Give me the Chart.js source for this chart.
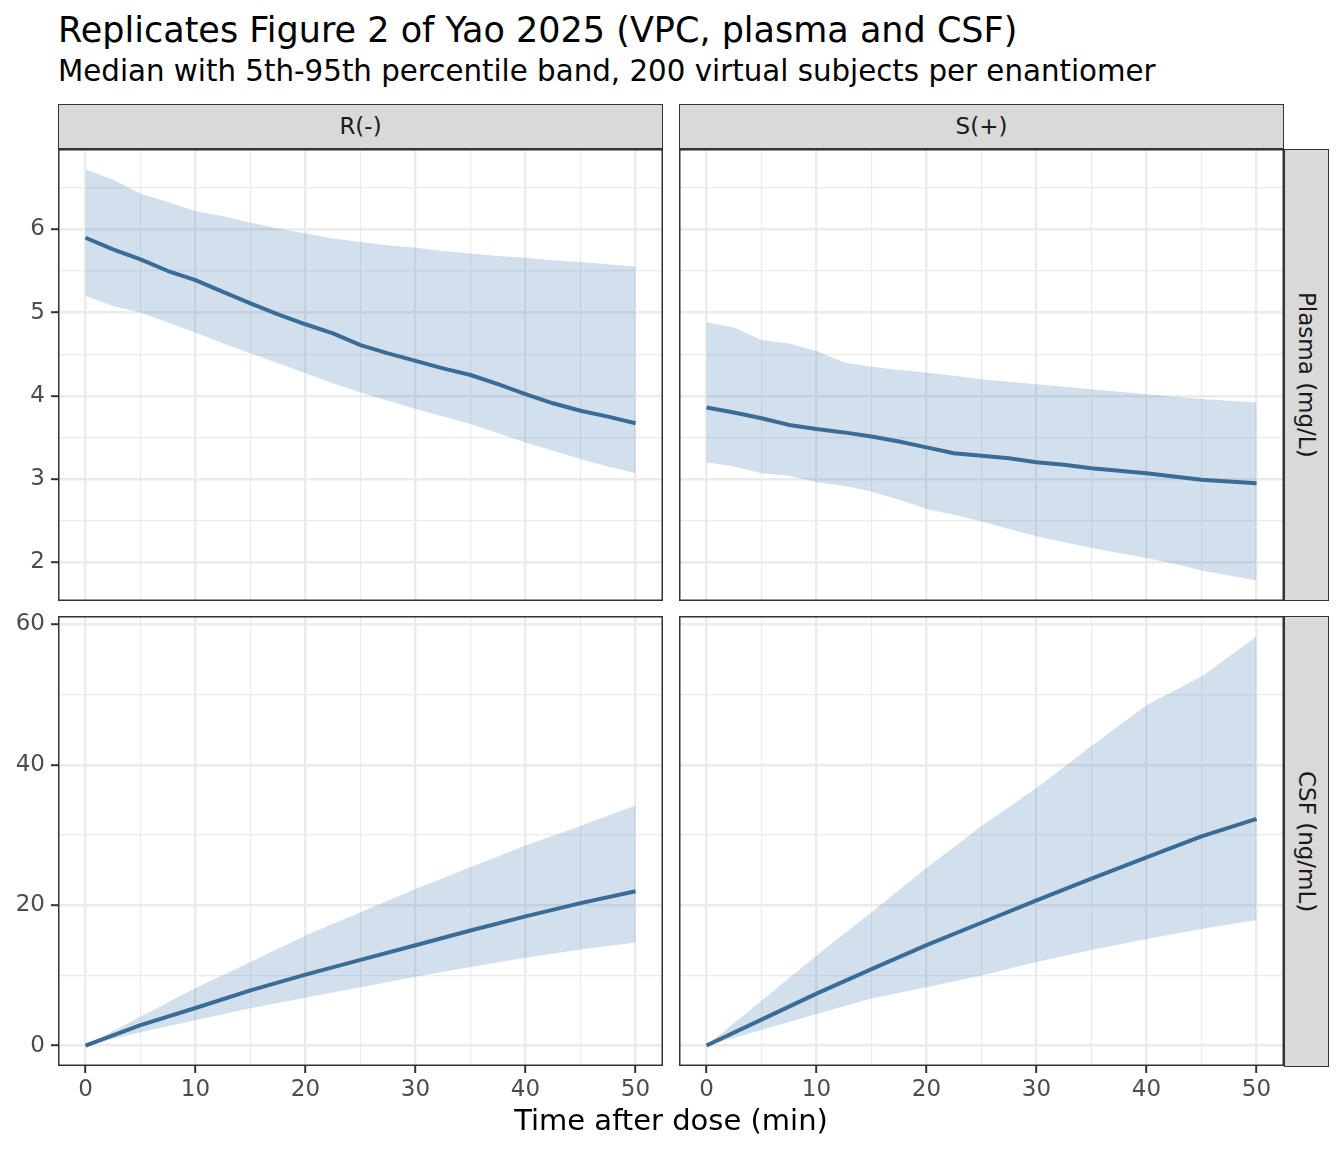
<!DOCTYPE html>
<html>
<head>
<meta charset="utf-8">
<script src="https://cdn.jsdelivr.net/npm/chart.js@4.4.1/dist/chart.umd.min.js"></script>
<style>
body { margin: 0; background: #fff; font-family: "DejaVu Sans", sans-serif; }
#wrap { position: relative; width: 1344px; height: 1152px; overflow: hidden; background: #fff; }
canvas { position: absolute; }
.txt { position: absolute; line-height: 1; white-space: nowrap; color: #000; }
.strip { position: absolute; background: #D9D9D9; border: 1.5px solid #333; box-sizing: border-box;
  display: flex; align-items: center; justify-content: center; font-size: 23px; color: #1A1A1A; line-height: 1; }
.vert { writing-mode: vertical-rl; }
</style>
</head>
<body>
<div id="wrap">
  <div class="txt" id="title" style="left:58px;top:13px;font-size:35px;"></div>
  <div class="txt" id="subtitle" style="left:58px;top:57px;font-size:29.3px;"></div>

  <div class="strip" id="stripR" style="left:58px;top:104px;width:605px;height:45px;"></div>
  <div class="strip" id="stripS" style="left:679px;top:104px;width:605px;height:45px;"></div>
  <div class="strip vert" id="stripPlasma" style="left:1284px;top:149px;width:45px;height:452px;"></div>
  <div class="strip vert" id="stripCsf" style="left:1284px;top:616px;width:45px;height:451px;"></div>

  <canvas id="cTL" width="663" height="452" style="left:0px;top:149px;"></canvas>
  <canvas id="cTR" width="605" height="452" style="left:679px;top:149px;"></canvas>
  <canvas id="cBL" width="663" height="516" style="left:0px;top:600px;"></canvas>
  <canvas id="cBR" width="605" height="516" style="left:679px;top:600px;"></canvas>

  <div class="txt" id="xtitle" style="left:58px;width:1226px;text-align:center;top:1106px;font-size:29px;"></div>
</div>

<script>
// labels
const titleText = 'Replicates Figure 2 of Yao 2025 (VPC, plasma and CSF)'
const subtitleText = 'Median with 5th-95th percentile band, 200 virtual subjects per enantiomer'
const enantiomers = ['R(-)', 'S(+)']
const rowLabels = ['Plasma (mg/L)', 'CSF (ng/mL)']
const xTitle = 'Time after dose (min)'

// ticks
const xTicks = [0, 5, 10, 15, 20, 25, 30, 35, 40, 45, 50]
const xMajor = [0, 10, 20, 30, 40, 50]
const plasmaTicks = [2, 2.5, 3, 3.5, 4, 4.5, 5, 5.5, 6, 6.5]
const plasmaMajor = [2, 3, 4, 5, 6]
const csfTicks = [0, 10, 20, 30, 40, 50, 60]
const csfMajor = [0, 20, 40, 60]

// time points (min)
const timePlasma = [0, 2.5, 5, 7.5, 10, 12.5, 15, 17.5, 20, 22.5, 25, 27.5, 30, 32.5, 35, 37.5, 40, 42.5, 45, 47.5, 50]
const timeCsf = [0, 5, 10, 15, 20, 25, 30, 35, 40, 45, 50]

// plasma, R(-)
const rPlasmaMedian = [5.90, 5.76, 5.64, 5.50, 5.39, 5.25, 5.11, 4.98, 4.86, 4.75, 4.61, 4.51, 4.42, 4.33, 4.25, 4.14, 4.02, 3.91, 3.82, 3.75, 3.67]
const rPlasmaP05 = [5.20, 5.08, 5.00, 4.88, 4.76, 4.63, 4.51, 4.39, 4.27, 4.15, 4.04, 3.94, 3.84, 3.75, 3.66, 3.55, 3.44, 3.34, 3.24, 3.15, 3.07]
const rPlasmaP95 = [6.72, 6.60, 6.43, 6.33, 6.22, 6.16, 6.08, 6.01, 5.95, 5.89, 5.85, 5.81, 5.78, 5.74, 5.71, 5.68, 5.66, 5.63, 5.61, 5.58, 5.55]

// plasma, S(+)
const sPlasmaMedian = [3.86, 3.80, 3.73, 3.65, 3.60, 3.56, 3.51, 3.45, 3.38, 3.31, 3.28, 3.25, 3.20, 3.17, 3.13, 3.10, 3.07, 3.03, 2.99, 2.97, 2.95]
const sPlasmaP05 = [3.20, 3.15, 3.07, 3.04, 2.96, 2.92, 2.85, 2.75, 2.64, 2.57, 2.49, 2.40, 2.31, 2.24, 2.17, 2.11, 2.05, 1.98, 1.90, 1.84, 1.78]
const sPlasmaP95 = [4.88, 4.82, 4.67, 4.63, 4.54, 4.40, 4.35, 4.31, 4.28, 4.24, 4.20, 4.17, 4.14, 4.11, 4.08, 4.05, 4.02, 3.99, 3.96, 3.94, 3.92]

// CSF, R(-)
const rCsfMedian = [0, 2.9, 5.35, 7.87, 10.1, 12.2, 14.3, 16.4, 18.4, 20.3, 22.0]
const rCsfP05 = [0, 1.9, 3.6, 5.3, 6.8, 8.3, 9.8, 11.2, 12.5, 13.7, 14.7]
const rCsfP95 = [0, 4.1, 8.2, 11.9, 15.7, 19.0, 22.3, 25.4, 28.5, 31.3, 34.2]

// CSF, S(+)
const sCsfMedian = [0, 3.7, 7.4, 10.9, 14.3, 17.5, 20.7, 23.8, 26.8, 29.8, 32.3]
const sCsfP05 = [0, 2.2, 4.5, 6.7, 8.3, 10.0, 11.9, 13.6, 15.2, 16.6, 17.9]
const sCsfP95 = [0, 6.4, 12.8, 19.0, 25.3, 31.3, 36.7, 42.7, 48.5, 52.6, 58.3]

document.getElementById('title').textContent = titleText
document.getElementById('subtitle').textContent = subtitleText
document.getElementById('stripR').textContent = enantiomers[0]
document.getElementById('stripS').textContent = enantiomers[1]
document.getElementById('stripPlasma').textContent = rowLabels[0]
document.getElementById('stripCsf').textContent = rowLabels[1]
document.getElementById('xtitle').textContent = xTitle

const lineColor = '#36648B'
const bandColor = 'rgba(70,130,180,0.25)'
const gridColor = '#EBEBEB'
const font = { family: 'DejaVu Sans', size: 23 }

// ggplot style 5% expansion
function expanded(arrays) {
    const all = [].concat(...arrays)
    const lo = Math.min(...all), hi = Math.max(...all)
    const pad = (hi - lo) * 0.05
    return [lo - pad, hi + pad]
}
const plasmaLim = expanded([rPlasmaP05, rPlasmaP95, sPlasmaP05, sPlasmaP95])
const csfLim = expanded([rCsfP05, rCsfP95, sCsfP05, sCsfP95])

const panelBorder = {
    id: 'panelBorder',
    afterDraw(chart) {
        const a = chart.chartArea
        const c = chart.ctx
        c.save()
        c.strokeStyle = '#333333'
        c.lineWidth = 1.5
        c.strokeRect(a.left + 0.75, a.top + 0.75, a.right - a.left - 1.5, a.bottom - a.top - 1.5)
        c.restore()
    }
}

function pts(times, vals) {
    return times.map((t, i) => ({ x: t, y: vals[i] }))
}

function makePanel(id, times, low, high, median, lim, yTicks, yMajor, showX, showY) {
    const xMajorSet = new Set(xMajor)
    const yMajorSet = new Set(yMajor)
    new Chart(document.getElementById(id), {
        type: 'line',
        data: {
            datasets: [
                { data: pts(times, low), borderColor: 'rgba(0,0,0,0)', pointRadius: 0, fill: false },
                { data: pts(times, high), borderColor: 'rgba(0,0,0,0)', pointRadius: 0, fill: '-1', backgroundColor: bandColor },
                { data: pts(times, median), borderColor: lineColor, borderWidth: 4, pointRadius: 0, fill: false, borderJoinStyle: 'round' }
            ]
        },
        options: {
            responsive: false,
            animation: false,
            events: [],
            // bottom row canvases start 16px above the panel so the top tick label fits
            layout: { padding: { top: showX ? 16 : 0 } },
            plugins: { legend: { display: false }, tooltip: { enabled: false } },
            scales: {
                x: {
                    type: 'linear',
                    min: -2.5,
                    max: 52.5,
                    afterBuildTicks: s => { s.ticks = xTicks.map(v => ({ value: v })) },
                    afterFit: s => { s.height = showX ? 50 : 0; s.paddingLeft = 0; s.paddingRight = 0; s.paddingTop = 0; s.paddingBottom = 0 },
                    border: { display: false },
                    grid: {
                        color: gridColor,
                        lineWidth: c => xMajorSet.has(c.tick.value) ? 2.4 : 1.2,
                        drawTicks: showX,
                        tickLength: 7,
                        tickWidth: 2,
                        tickColor: c => xMajorSet.has(c.tick.value) ? '#333333' : 'rgba(0,0,0,0)'
                    },
                    ticks: {
                        display: showX,
                        autoSkip: false,
                        maxRotation: 0,
                        padding: 3,
                        color: '#4D4D4D',
                        font: font,
                        callback: v => xMajorSet.has(v) ? String(v) : ''
                    }
                },
                y: {
                    type: 'linear',
                    min: lim[0],
                    max: lim[1],
                    afterBuildTicks: s => { s.ticks = yTicks.map(v => ({ value: v })) },
                    afterFit: s => { s.width = showY ? 58 : 0; s.paddingLeft = 0; s.paddingRight = 0; s.paddingTop = 0; s.paddingBottom = 0 },
                    border: { display: false },
                    grid: {
                        color: gridColor,
                        lineWidth: c => yMajorSet.has(c.tick.value) ? 2.4 : 1.2,
                        drawTicks: showY,
                        tickLength: 7,
                        tickWidth: 2,
                        tickColor: c => yMajorSet.has(c.tick.value) ? '#333333' : 'rgba(0,0,0,0)'
                    },
                    ticks: {
                        display: showY,
                        autoSkip: false,
                        padding: 6,
                        color: '#4D4D4D',
                        font: font,
                        callback: v => yMajorSet.has(v) ? String(v) : ''
                    }
                }
            }
        },
        plugins: [panelBorder]
    })
}

makePanel('cTL', timePlasma, rPlasmaP05, rPlasmaP95, rPlasmaMedian, plasmaLim, plasmaTicks, plasmaMajor, false, true)
makePanel('cTR', timePlasma, sPlasmaP05, sPlasmaP95, sPlasmaMedian, plasmaLim, plasmaTicks, plasmaMajor, false, false)
makePanel('cBL', timeCsf, rCsfP05, rCsfP95, rCsfMedian, csfLim, csfTicks, csfMajor, true, true)
makePanel('cBR', timeCsf, sCsfP05, sCsfP95, sCsfMedian, csfLim, csfTicks, csfMajor, true, false)
</script>
</body>
</html>
